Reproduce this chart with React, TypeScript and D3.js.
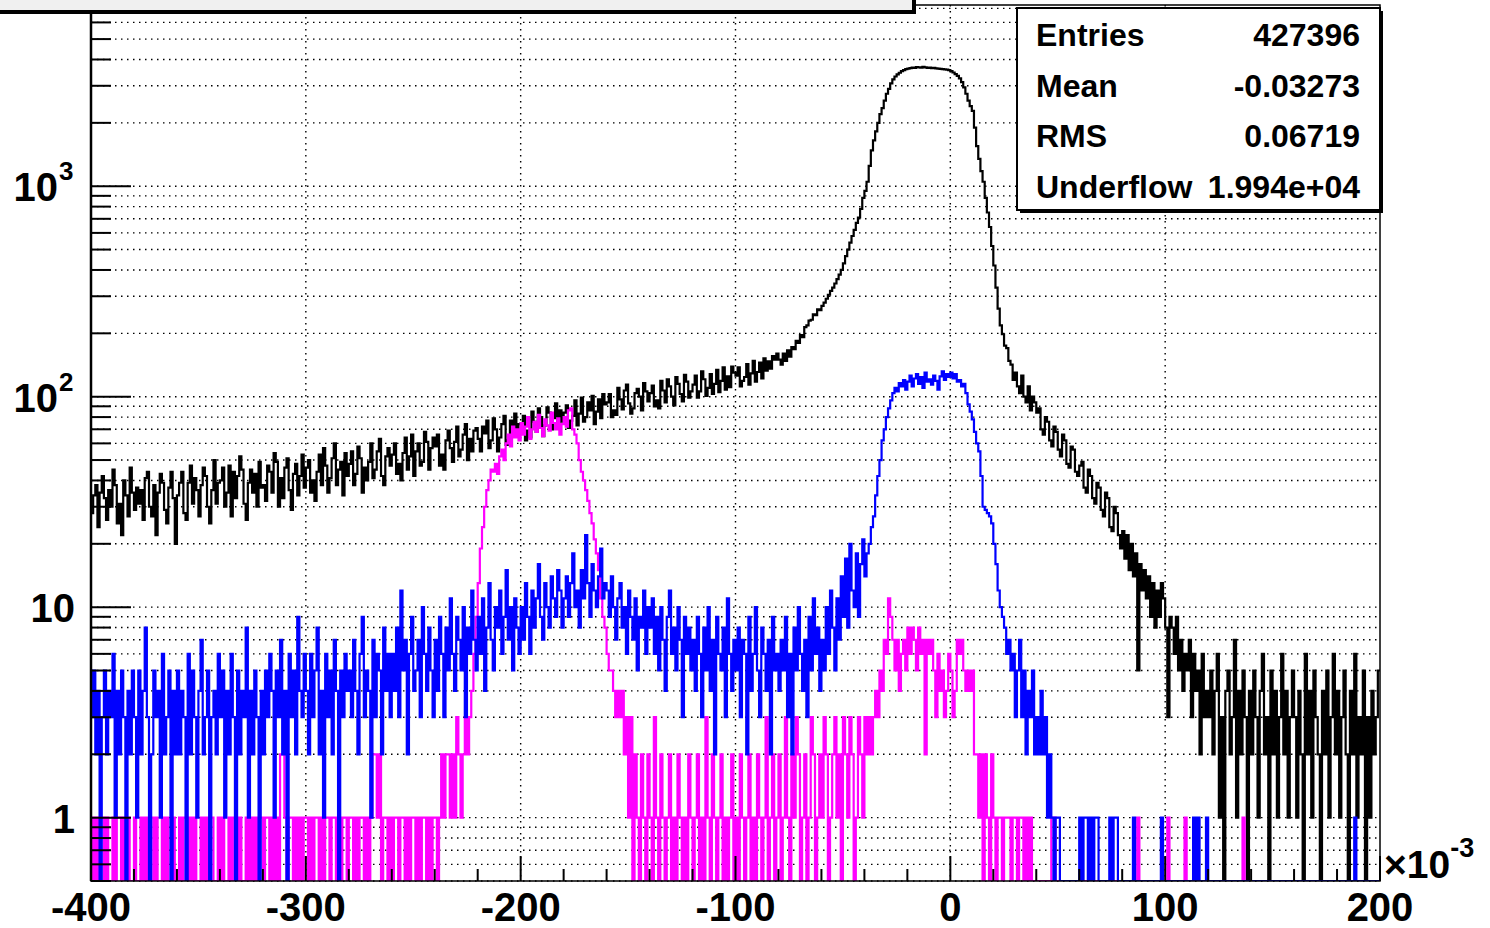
import React from 'react';
import * as d3 from 'd3';

// histogram binning (x axis in units of 1e-3), one bin per unit
const X_MIN = -400;
const X_MAX = 200;
const BIN_W = 1;

// black: all entries, 20 bins per row
const blackCounts = [
  28, 34, 38, 24, 35, 42, 33, 26, 36, 30, 45, 38, 25, 31, 22, 40, 34, 27, 46, 35,
  29, 37, 31, 36, 26, 41, 44, 30, 27, 38, 22, 35, 43, 39, 29, 25, 37, 44, 33, 20,
  34, 39, 44, 28, 26, 39, 47, 31, 41, 36, 27, 38, 46, 42, 30, 25, 36, 50, 31, 39,
  40, 46, 30, 35, 47, 27, 44, 33, 42, 52, 45, 31, 26, 39, 45, 35, 43, 30, 49, 37,
  38, 32, 47, 44, 35, 54, 49, 30, 41, 33, 46, 51, 36, 29, 43, 48, 34, 42, 53, 37,
  46, 50, 35, 40, 32, 44, 53, 38, 57, 47, 35, 41, 51, 60, 38, 45, 49, 34, 54, 42,
  48, 55, 38, 43, 58, 51, 35, 46, 40, 49, 60, 41, 45, 55, 63, 42, 38, 52, 57, 47,
  53, 60, 43, 48, 40, 54, 64, 45, 52, 66, 42, 55, 60, 47, 49, 68, 61, 45, 57, 64,
  58, 66, 47, 53, 45, 62, 69, 57, 49, 61, 72, 52, 56, 66, 74, 50, 63, 55, 69, 71,
  63, 55, 72, 67, 77, 57, 62, 79, 70, 55, 64, 74, 81, 59, 62, 77, 71, 83, 66, 74,
  75, 81, 62, 69, 64, 85, 76, 68, 88, 80, 65, 73, 89, 84, 70, 79, 93, 71, 86, 76,
  84, 91, 71, 77, 81, 96, 73, 83, 99, 76, 80, 94, 86, 101, 74, 85, 97, 79, 103, 92,
  94, 103, 80, 86, 82, 110, 97, 87, 107, 114, 93, 83, 88, 104, 109, 100, 86, 116, 106, 95,
  104, 113, 90, 96, 88, 119, 107, 94, 121, 112, 100, 91, 124, 115, 103, 95, 127, 118, 99, 106,
  114, 126, 99, 106, 132, 121, 101, 110, 128, 103, 115, 134, 105, 119, 138, 108, 125, 111, 139, 130,
  126, 138, 112, 119, 124, 143, 114, 129, 148, 118, 131, 145, 122, 152, 133, 147, 136, 156, 150, 160,
  150, 142, 160, 148, 166, 155, 172, 168, 184, 180, 196, 192, 214, 218, 230, 232, 246, 244, 260, 258,
  270, 280, 292, 305, 318, 330, 345, 362, 380, 400, 430, 465, 500, 540, 580, 620, 670, 710, 780, 880,
  950, 1050, 1250, 1480, 1650, 1820, 2000, 2200, 2350, 2550, 2750, 2900, 3080, 3220, 3320, 3400, 3460, 3520, 3560, 3600,
  3620, 3640, 3660, 3650, 3680, 3670, 3660, 3690, 3670, 3650, 3660, 3640, 3650, 3630, 3620, 3610, 3600, 3590, 3580, 3560,
  3520, 3470, 3410, 3340, 3250, 3120, 2950, 2750, 2550, 2400, 2280, 1900, 1550, 1350, 1180, 1050, 880, 750, 640, 520,
  420, 330, 262, 218, 198, 175, 170, 148, 142, 120, 130, 112, 104, 126, 100, 94, 112, 86, 100, 94,
  84, 88, 70, 66, 80, 76, 62, 58, 72, 68, 56, 52, 66, 62, 48, 46, 58, 56, 44, 42,
  47, 49, 37, 35, 45, 42, 33, 31, 39, 37, 29, 27, 35, 33, 24, 23, 30, 28, 22, 19,
  23, 17, 22, 15, 20, 14, 18, 5, 16, 12, 15, 11, 14, 9, 13, 8, 12, 9, 13, 11,
  8, 3, 9, 8, 6, 9, 5, 7, 4, 6, 5, 7, 3, 6, 4, 5, 2, 6, 3, 4,
  3, 5, 2, 4, 6, 1, 3, 0, 4, 5, 2, 3, 7, 1, 4, 2, 5, 3, 0, 4,
  2, 5, 3, 1, 4, 6, 2, 3, 0, 5, 2, 4, 1, 3, 6, 2, 4, 1, 3, 5,
  3, 1, 4, 2, 0, 6, 2, 4, 1, 5, 3, 2, 0, 4, 2, 5, 1, 3, 6, 2,
  4, 1, 3, 5, 2, 0, 4, 2, 6, 1, 3, 2, 5, 0, 3, 1, 4, 2, 3, 5,
];

// blue
const blueCounts = [
  3, 5, 2, 4, 0, 3, 5, 2, 4, 3, 6, 1, 4, 2, 5, 3, 0, 4, 2, 5,
  3, 1, 5, 2, 4, 8, 3, 0, 2, 5, 3, 4, 1, 6, 2, 3, 5, 0, 4, 2,
  5, 2, 4, 3, 0, 6, 2, 5, 3, 1, 4, 7, 2, 3, 5, 0, 3, 4, 2, 6,
  3, 5, 1, 4, 2, 6, 3, 0, 5, 2, 4, 3, 8, 1, 4, 2, 5, 3, 0, 4,
  2, 5, 3, 6, 4, 1, 5, 3, 7, 2, 4, 0, 6, 3, 5, 2, 9, 4, 3, 6,
  4, 2, 6, 3, 5, 8, 2, 4, 1, 6, 3, 5, 2, 7, 4, 0, 5, 3, 6, 4,
  5, 3, 7, 4, 2, 6, 9, 3, 5, 4, 1, 7, 3, 6, 5, 2, 8, 4, 6, 3,
  6, 4, 8, 3, 12, 5, 7, 2, 6, 9, 4, 5, 7, 3, 10, 6, 4, 8, 5, 3,
  7, 4, 9, 6, 3, 8, 5, 11, 6, 4, 9, 7, 5, 10, 3, 8, 6, 12, 7, 5,
  9, 6, 11, 4, 8, 13, 7, 5, 10, 8, 12, 6, 9, 15, 7, 10, 5, 11, 8, 6,
  10, 7, 13, 9, 6, 12, 8, 11, 16, 9, 7, 13, 10, 8, 14, 11, 9, 15, 12, 8,
  11, 14, 9, 13, 18, 10, 12, 8, 15, 11, 22, 13, 9, 16, 12, 10, 14, 19, 11, 13,
  12, 9, 14, 10, 7, 11, 13, 8, 10, 6, 12, 9, 7, 11, 5, 9, 8, 12, 6, 10,
  8, 11, 6, 9, 5, 10, 7, 4, 9, 12, 6, 8, 5, 10, 7, 3, 9, 6, 8, 5,
  7, 4, 9, 6, 3, 8, 5, 10, 4, 7, 2, 9, 6, 5, 8, 3, 11, 6, 4, 7,
  5, 8, 3, 7, 6, 2, 9, 4, 6, 10, 5, 3, 8, 6, 4, 7, 2, 9, 5, 6,
  4, 7, 5, 9, 3, 6, 2, 8, 5, 10, 6, 4, 7, 3, 9, 5, 11, 6, 8, 4,
  7, 5, 10, 6, 12, 8, 5, 11, 7, 14, 9, 17, 8, 20, 12, 10, 18, 9, 16, 21,
  14, 18, 20, 24, 27, 34, 42, 50, 62, 70, 80, 88, 96, 104, 110, 106, 116, 112, 120, 108,
  118, 126, 112, 122, 128, 115, 124, 110, 130, 118, 121, 114, 126, 119, 108, 125, 132, 120, 128, 124,
  130, 122, 128, 118, 120, 112, 115, 104, 92, 85, 78, 68, 60, 55, 42, 30, 29, 28, 27, 25,
  20, 16, 12, 10, 9, 8, 6, 7, 5, 6, 3, 5, 7, 3, 5, 2, 4, 3, 5, 2,
  3, 2, 4, 2, 3, 1, 2, 1, 0, 1, 1, 0, 0, 0, 0, 0, 0, 0, 0, 0,
  1, 0, 1, 1, 0, 1, 0, 1, 1, 0, 0, 0, 0, 0, 1, 0, 1, 1, 0, 0,
  0, 0, 0, 0, 0, 1, 0, 0, 0, 0, 0, 0, 0, 0, 0, 0, 0, 0, 1, 0,
  0, 0, 0, 0, 0, 0, 0, 0, 0, 0, 0, 0, 0, 1, 0, 1, 0, 0, 0, 1,
  0, 0, 0, 0, 0, 0, 0, 0, 0, 0, 0, 0, 0, 0, 0, 0, 0, 0, 0, 0,
  0, 0, 0, 0, 0, 0, 0, 0, 0, 0, 0, 0, 0, 0, 0, 0, 0, 0, 0, 0,
  0, 0, 0, 0, 0, 0, 0, 0, 0, 0, 0, 0, 0, 0, 0, 0, 0, 0, 0, 0,
  0, 0, 0, 0, 0, 0, 0, 0, 1, 0, 0, 0, 0, 0, 0, 0, 0, 0, 0, 0,
];

// magenta
const magentaCounts = [
  1, 0, 1, 0, 1, 1, 0, 1, 0, 0, 1, 0, 1, 1, 0, 1, 0, 1, 0, 0,
  1, 0, 0, 1, 0, 1, 0, 1, 1, 0, 1, 0, 0, 1, 0, 1, 0, 0, 1, 0,
  0, 1, 0, 1, 1, 0, 1, 0, 1, 0, 0, 1, 0, 1, 0, 1, 1, 0, 0, 1,
  0, 1, 0, 0, 1, 0, 1, 1, 0, 1, 0, 0, 1, 0, 1, 0, 1, 0, 1, 1,
  0, 1, 1, 0, 1, 0, 1, 0, 2, 2, 1, 0, 1, 1, 0, 1, 0, 1, 0, 1,
  1, 0, 1, 0, 1, 1, 0, 1, 0, 1, 1, 0, 1, 1, 0, 1, 0, 1, 1, 0,
  1, 1, 0, 1, 0, 1, 1, 0, 1, 0, 1, 2, 2, 1, 2, 0, 1, 1, 0, 1,
  0, 1, 1, 0, 1, 1, 0, 1, 0, 1, 1, 0, 1, 0, 1, 1, 0, 1, 0, 1,
  1, 0, 1, 2, 1, 2, 2, 1, 2, 1, 3, 2, 1, 2, 3, 2, 3, 4, 6, 9,
  13, 19, 24, 30, 36, 40, 45, 44, 48, 43, 52, 56, 50, 60, 66, 58, 72, 64, 70, 62,
  75, 66, 72, 80, 63, 70, 76, 68, 82, 71, 65, 78, 73, 69, 84, 75, 70, 79, 66, 74,
  80, 72, 86, 88, 70, 66, 60, 50, 44, 40, 36, 32, 28, 25, 21, 18, 15, 11, 9, 8,
  6, 5, 5, 4, 3, 4, 3, 4, 2, 3, 1, 3, 0, 2, 1, 0, 2, 1, 0, 2,
  1, 0, 3, 1, 0, 2, 1, 0, 1, 2, 0, 1, 0, 2, 1, 0, 1, 0, 2, 1,
  0, 1, 2, 0, 1, 0, 3, 1, 0, 2, 1, 0, 1, 2, 0, 1, 0, 1, 2, 0,
  1, 0, 2, 1, 0, 1, 2, 0, 1, 0, 2, 1, 0, 1, 3, 0, 1, 2, 0, 1,
  2, 0, 1, 3, 1, 0, 2, 1, 3, 2, 0, 1, 2, 0, 1, 3, 2, 0, 1, 2,
  1, 3, 2, 0, 1, 2, 3, 1, 2, 0, 3, 2, 1, 3, 2, 0, 1, 3, 2, 1,
  3, 2, 3, 2, 3, 4, 3, 5, 4, 7, 6, 11, 9, 7, 5, 7, 4, 6, 7, 5,
  8, 6, 8, 7, 5, 8, 6, 7, 2, 7, 6, 7, 5, 3, 6, 4, 5, 3, 4, 6,
  5, 3, 4, 7, 6, 7, 5, 4, 5, 4, 5, 2, 2, 1, 2, 0, 2, 1, 0, 2,
  1, 0, 1, 1, 0, 1, 1, 1, 0, 1, 1, 0, 1, 1, 0, 1, 0, 1, 0, 0,
  0, 0, 0, 0, 0, 0, 0, 1, 1, 0, 0, 0, 0, 0, 0, 0, 0, 0, 0, 0,
  0, 0, 0, 0, 0, 0, 0, 0, 0, 0, 0, 0, 0, 0, 0, 0, 0, 0, 0, 0,
  0, 0, 0, 0, 0, 0, 0, 1, 0, 0, 0, 0, 0, 0, 0, 0, 0, 0, 0, 0,
  0, 1, 0, 0, 0, 0, 0, 0, 0, 1, 0, 0, 0, 0, 0, 0, 0, 0, 0, 0,
  0, 0, 0, 0, 0, 0, 0, 0, 0, 0, 0, 0, 0, 0, 0, 0, 1, 0, 0, 0,
  0, 0, 0, 0, 0, 0, 0, 0, 0, 0, 0, 0, 0, 0, 0, 0, 0, 0, 0, 0,
  0, 0, 0, 0, 0, 0, 0, 0, 0, 0, 0, 0, 0, 0, 0, 0, 0, 0, 0, 0,
  0, 0, 0, 0, 0, 0, 0, 0, 0, 0, 0, 0, 0, 0, 0, 0, 0, 0, 0, 0,
];

const xTickLabels = [-400, -300, -200, -100, 0, 100, 200];
const yMajorTicks = [1, 10, 100, 1000];
const yMajorExp = ['', '', '2', '3'];
const statsLabels = ['Entries', 'Mean', 'RMS', 'Underflow'];
const statsValues = ['427396', '-0.03273', '0.06719', '1.994e+04'];

const FONT = '"Liberation Sans", Arial, Helvetica, sans-serif';

export default function App() {
    const width = 1490;
    const height = 928;
    const frame = { left: 91, right: 1380, top: 5, bottom: 881 };

    const x = d3.scaleLinear().domain([X_MIN, X_MAX]).range([frame.left, frame.right]);
    const y = d3.scaleLog().domain([0.5, 7260]).range([frame.bottom, frame.top]);

    // all log ticks (1..9 per decade) inside the range
    const yAllTicks: number[] = [];
    [0.1, 1, 10, 100, 1000].forEach(dec => {
        for (let k = 1; k <= 9; k++) {
            const v = +(k * dec).toFixed(3);
            if (v >= 0.5 && v <= 7260) yAllTicks.push(v);
        }
    });

    const xMinorTicks = d3.range(X_MIN, X_MAX + 1, 20);

    // step outline; empty bins drop to the frame bottom like ROOT on log scale
    const stepPath = (counts: number[]) => {
        const pts: [number, number][] = [];
        counts.forEach((c, i) => {
            const lo = X_MIN + i * BIN_W;
            const hi = lo + BIN_W;
            const yy = c > 0 ? y(c) : frame.bottom;
            pts.push([x(lo), yy], [x(hi), yy]);
        });
        return d3.line()(pts) || '';
    };

    const gridDash = '1.5 4.5';

    return (
        <svg
            width={width}
            height={height}
            style={{ position: 'absolute', left: 0, top: 0, background: '#fff' }}
            fontFamily={FONT}
        >
            <defs>
                <clipPath id="plotClip">
                    <rect x={frame.left} y={frame.top} width={frame.right - frame.left} height={frame.bottom - frame.top} />
                </clipPath>
            </defs>
            <rect x={0} y={0} width={width} height={height} fill="#fff" />

            {/* grid */}
            {yAllTicks.map(t => (
                <line key={'gy' + t} x1={frame.left} x2={frame.right} y1={y(t)} y2={y(t)}
                    stroke="#000" strokeWidth={1.4} strokeDasharray={gridDash} />
            ))}
            {xTickLabels.slice(1, -1).map(t => (
                <line key={'gx' + t} x1={x(t)} x2={x(t)} y1={frame.top} y2={frame.bottom}
                    stroke="#000" strokeWidth={1.4} strokeDasharray={gridDash} />
            ))}

            {/* histograms */}
            <g clipPath="url(#plotClip)" fill="none" strokeWidth={2.2}>
                <path d={stepPath(blackCounts)} stroke="#000" />
                <path d={stepPath(magentaCounts)} stroke="#ff00ff" />
                <path d={stepPath(blueCounts)} stroke="#0000ff" />
            </g>

            {/* frame */}
            <rect x={frame.left} y={frame.top} width={frame.right - frame.left} height={frame.bottom - frame.top}
                fill="none" stroke="#000" strokeWidth={1.5} />
            <line x1={frame.left} x2={frame.left} y1={frame.top} y2={frame.bottom} stroke="#000" strokeWidth={2.5} />

            {/* y ticks */}
            {yAllTicks.map(t => {
                const major = yMajorTicks.includes(t);
                return (
                    <line key={'ty' + t} x1={frame.left} x2={frame.left + (major ? 40 : 20)} y1={y(t)} y2={y(t)}
                        stroke="#000" strokeWidth={2} />
                );
            })}
            {/* x ticks */}
            {xMinorTicks.map(t => {
                const major = t % 100 === 0;
                return (
                    <line key={'tx' + t} x1={x(t)} x2={x(t)} y1={frame.bottom} y2={frame.bottom - (major ? 25 : 12)}
                        stroke="#000" strokeWidth={2} />
                );
            })}

            {/* x labels */}
            {xTickLabels.map(t => (
                <text key={'lx' + t} x={x(t)} y={921} textAnchor="middle" fontSize={40} fontWeight="bold" fill="#000">
                    {t}
                </text>
            ))}
            <text x={1384} y={878} fontSize={39} fontWeight="bold" fill="#000">
                ×10
                <tspan dy={-21} fontSize={27}>-3</tspan>
            </text>

            {/* y labels */}
            {yMajorTicks.map((t, i) => (
                <text key={'ly' + t} x={yMajorExp[i] ? 58 : 75} y={y(t) + 15} textAnchor="end" fontSize={40}
                    fontWeight="bold" fill="#000">
                    {yMajorExp[i] ? '10' : String(t)}
                </text>
            ))}
            {yMajorTicks.map((t, i) => yMajorExp[i] ? (
                <text key={'le' + t} x={59} y={y(t) - 6} fontSize={26} fontWeight="bold" fill="#000">
                    {yMajorExp[i]}
                </text>
            ) : null)}

            {/* title box (cut off at the top) */}
            <rect x={-4} y={-4} width={920} height={18} fill="#000" />
            <rect x={-6} y={-6} width={919} height={17} fill="#f0f0f0" stroke="#000" strokeWidth={2} />

            {/* stats box */}
            <rect x={1020} y={11} width={363} height={202} fill="#000" />
            <rect x={1017} y={8} width={363} height={202} fill="#fff" stroke="#000" strokeWidth={2} />
            {statsLabels.map((s, i) => (
                <g key={s}>
                    <text x={1036} y={46 + i * 50.5} fontSize={32} fontWeight="bold" fill="#000">{s}</text>
                    <text x={1360} y={46 + i * 50.5} textAnchor="end" fontSize={32} fontWeight="bold" fill="#000">
                        {statsValues[i]}
                    </text>
                </g>
            ))}
        </svg>
    );
}
